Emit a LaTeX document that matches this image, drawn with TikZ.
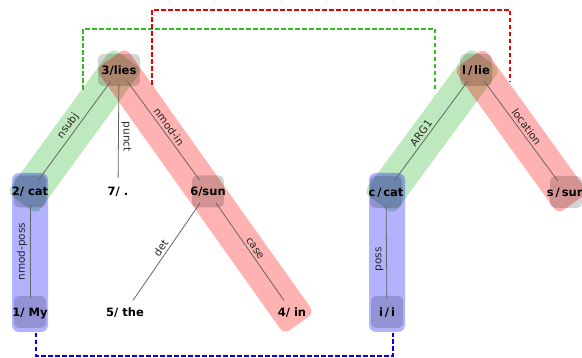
\documentclass[tikz,border=0pt]{standalone}
\usepackage{fontspec}
\setmainfont{DejaVu Sans}
\definecolor{bgreen}{RGB}{40,180,40}
\definecolor{bred}{RGB}{255,0,0}
\definecolor{bblue}{RGB}{0,0,255}
\definecolor{dgreen}{RGB}{50,190,30}
\definecolor{dred}{RGB}{230,0,0}
\definecolor{dblue}{RGB}{0,0,230}
\newcommand{\wbox}[2][24pt]{\makebox[#1][c]{#2}}
\begin{document}
\begin{tikzpicture}[x=1pt,y=-1pt,
  band/.style={rectangle, rounded corners=7pt, inner sep=0pt, minimum height=37pt, fill opacity=0.3, draw=none},
  word/.style={font=\bfseries\fontsize{11.5}{12}\selectfont, inner sep=0pt, text height=8.5pt, text depth=0pt},
  boxed/.style={word, fill=black, fill opacity=0.17, text opacity=1, rounded corners=5pt, minimum height=32pt, inner xsep=4pt},
  dep/.style={draw=black!60, line width=0.8pt, shorten <=14pt, shorten >=14pt},
  lab/.style={font=\fontsize{10.5}{11}\selectfont, text=black!85, inner sep=2.5pt},
  link/.style={line width=2pt, dash pattern=on 4.5pt off 2.5pt}
]
\clip (0,0) rectangle (582,358);
\fill[white] (0,0) rectangle (582,358);

% bands
\node[band, fill=bgreen, minimum width=179pt, rotate=53.9] (gband1) at (74.5,131) {};
\node[band, fill=bred, minimum width=325pt, rotate=-54.6] (rband1) at (205,191) {};
\node[band, fill=bblue, minimum width=36pt, minimum height=159pt] (bband1) at (30,252.5) {};
\node[band, fill=bgreen, minimum width=180pt, rotate=53.6] (gband2) at (432,131) {};
\node[band, fill=bred, minimum width=178pt, rotate=-54.2] (rband2) at (521,131) {};
\node[band, fill=bblue, minimum width=36pt, minimum height=159pt] (bband2) at (387,252.5) {};

% dashed links
\coordinate (gA) at (83,90);
\coordinate (gB) at (435,89);
\coordinate (gTop) at (0,29);
\coordinate (rA) at (152,85);
\coordinate (rB) at (510,82);
\coordinate (rTop) at (0,10);
\coordinate (bA) at (36,333);
\coordinate (bB) at (393,333);
\coordinate (bBot) at (0,356);
\draw[link, dgreen] (gA) -- (gA |- gTop) -- (gB |- gTop) -- (gB);
\draw[link, dred] (rA) -- (rA |- rTop) -- (rB |- rTop) -- (rB);
\draw[link, dblue] (bA) -- (bA |- bBot) -- (bB |- bBot) -- (bB);

% nodes
\node[boxed] (lies) at (119,70) {\wbox[34pt]{3/lies}};
\node[boxed] (cat2) at (30,191.5) {\wbox{2/ cat}};
\node[word] (dot7) at (118,191.5) {7/ .};
\node[boxed] (sun6) at (208,191.5) {\wbox{6/sun}};
\node[boxed] (my1) at (30,312) {\wbox{1/ My}};
\node[word] (the5) at (125,312) {5/ the};
\node[word] (in4) at (292,312) {4/ in};
\node[boxed] (ccat) at (386,192) {\wbox{c\,/\,cat}};
\node[boxed] (ii) at (387,312) {\wbox{i\,/\,i}};
\node[boxed] (llie) at (476,70) {\wbox{l\,/\,lie}};
\node[boxed] (ssun) at (566,192) {\wbox{s\,/\,sun}};

% dependencies
\draw[dep] (cat2.center) -- node[lab, sloped, above]{nsubj} (lies.center);
\draw[dep] (lies.center) -- node[lab, pos=0.55, rotate=-90, anchor=south]{punct} (dot7.center);
\draw[dep] (lies.center) -- node[lab, sloped, above]{nmod-in} (sun6.center);
\draw[dep] (the5.center) -- node[lab, sloped, above]{det} (sun6.center);
\draw[dep] (sun6.center) -- node[lab, sloped, above]{case} (in4.center);
\draw[dep] (cat2.center) -- node[lab, rotate=90, anchor=south]{nmod-poss} (my1.center);
\draw[dep] (ccat.center) -- node[lab, pos=0.45, sloped, above]{ARG1} (llie.center);
\draw[dep] (llie.center) -- node[lab, sloped, above]{location} (ssun.center);
\draw[dep] (ccat.center) -- node[lab, pos=0.56, rotate=90, anchor=south]{poss} (ii.center);
\end{tikzpicture}
\end{document}
